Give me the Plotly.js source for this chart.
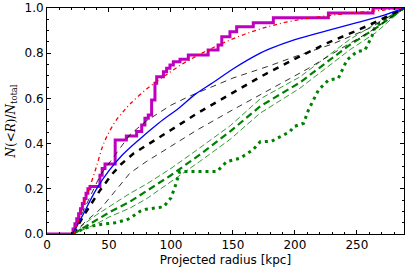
<!DOCTYPE html>
<html>
<head>
<meta charset="utf-8">
<script src="https://cdn.plot.ly/plotly-3.0.1.min.js"></script>
<style>html,body{margin:0;padding:0;background:#fff;}#chart{width:407px;height:271px;}</style>
</head>
<body>
<div id="chart"></div>
<script>
// Observed cumulative distribution (step)
const obsR = [0, 21, 22.5, 24, 25.5, 27, 28.5, 30, 31.5, 33, 34.7, 42.7, 44.5, 46.8, 55, 64, 72.3, 76.4, 79, 81.7, 84.4, 87.1, 88.5, 93.9, 96.5, 99.2, 101.9, 107.3, 114, 130, 138, 141, 147.6, 153, 166.4, 182.6, 227, 263, 288];
const obsF = [0, 0.022, 0.045, 0.067, 0.09, 0.112, 0.135, 0.157, 0.18, 0.2, 0.21, 0.26, 0.29, 0.31, 0.416, 0.434, 0.453, 0.482, 0.512, 0.527, 0.593, 0.667, 0.696, 0.718, 0.733, 0.748, 0.762, 0.773, 0.792, 0.814, 0.836, 0.873, 0.895, 0.917, 0.935, 0.957, 0.978, 1.0, 1.0];

// Red dash-dot model
const redR = [22, 26, 30, 34, 40, 45, 50, 56, 62, 67, 80, 95, 110, 125, 140, 160, 180, 200, 225, 250, 270, 288];
const redF = [0, 0.07, 0.14, 0.2, 0.3, 0.39, 0.45, 0.505, 0.545, 0.575, 0.64, 0.70, 0.755, 0.80, 0.84, 0.885, 0.92, 0.945, 0.965, 0.98, 0.99, 1.0];

// Blue solid model
const blueR = [21, 25, 30, 35, 40, 50, 60, 74, 90, 107, 120, 134, 150, 172, 180, 200, 226, 250, 270, 288];
const blueF = [0, 0.045, 0.095, 0.15, 0.2, 0.28, 0.345, 0.416, 0.49, 0.56, 0.62, 0.67, 0.73, 0.80, 0.82, 0.86, 0.90, 0.935, 0.965, 1.0];

// Black thick dashed (median)
const blkR = [21, 30, 40, 43, 53, 60, 70, 83, 100, 120, 134, 150, 172, 200, 226, 250, 266, 288];
const blkF = [0, 0.085, 0.17, 0.195, 0.268, 0.31, 0.357, 0.40, 0.46, 0.53, 0.575, 0.625, 0.695, 0.775, 0.845, 0.90, 0.94, 1.0];

// Black thin dashed upper / lower
const blkUpR = [21, 30, 43, 55, 67, 80, 100, 115, 130, 150, 180, 200, 230, 260, 288];
const blkUpF = [0, 0.11, 0.26, 0.35, 0.44, 0.50, 0.57, 0.61, 0.645, 0.69, 0.745, 0.785, 0.84, 0.91, 1.0];
const blkLoR = [21, 30, 43, 55, 67, 80, 100, 121, 150, 180, 210, 240, 265, 288];
const blkLoF = [0, 0.05, 0.11, 0.19, 0.27, 0.32, 0.39, 0.46, 0.55, 0.64, 0.73, 0.83, 0.91, 1.0];

// Green dashed (median thick, thin bounds)
const grnR = [21, 30, 40, 50, 67, 80, 100, 123, 148, 172, 204, 244, 265, 288];
const grnF = [0, 0.03, 0.065, 0.095, 0.143, 0.19, 0.26, 0.35, 0.455, 0.565, 0.67, 0.836, 0.91, 1.0];
const grnUpF = [0, 0.045, 0.085, 0.12, 0.18, 0.22, 0.29, 0.38, 0.48, 0.598, 0.695, 0.86, 0.93, 1.0];
const grnLoF = [0, 0.02, 0.045, 0.075, 0.115, 0.155, 0.23, 0.32, 0.42, 0.535, 0.645, 0.814, 0.89, 1.0];

// Green dotted
const gdotR = [21, 25, 30, 40, 55, 64, 67, 75, 80, 94, 100, 104, 107, 114, 137, 145, 156, 166, 172, 181, 188, 196, 199, 207, 211, 219, 227, 235, 242, 250, 256.5, 262, 264.6, 273, 285, 288];
const gdotF = [0, 0.01, 0.025, 0.04, 0.05, 0.062, 0.07, 0.1, 0.11, 0.12, 0.16, 0.22, 0.276, 0.276, 0.276, 0.32, 0.336, 0.372, 0.408, 0.41, 0.43, 0.453, 0.475, 0.49, 0.55, 0.637, 0.681, 0.689, 0.77, 0.807, 0.814, 0.873, 0.917, 0.947, 0.99, 1.0];

const xTicks = [0, 50, 100, 150, 200, 250];
const yTicks = [0.0, 0.2, 0.4, 0.6, 0.8, 1.0];

const G = '#008000';
const traces = [
  {x: obsR, y: obsF, mode: 'lines', line: {color: '#bf00bf', width: 3, shape: 'hv'}},
  {x: gdotR, y: gdotF, mode: 'lines', line: {color: G, width: 3, dash: '3px,4px'}},
  {x: grnR, y: grnUpF, mode: 'lines', line: {color: G, width: 0.8, dash: '6px,3px'}},
  {x: grnR, y: grnLoF, mode: 'lines', line: {color: G, width: 0.8, dash: '6px,3px'}},
  {x: grnR, y: grnF, mode: 'lines', line: {color: G, width: 2.2, dash: '7px,4px'}},
  {x: blkUpR, y: blkUpF, mode: 'lines', line: {color: '#000', width: 0.8, dash: '6px,5px'}},
  {x: blkLoR, y: blkLoF, mode: 'lines', line: {color: '#000', width: 0.8, dash: '6px,5px'}},
  {x: blkR, y: blkF, mode: 'lines', line: {color: '#000', width: 2.5, dash: '6px,6px'}},
  {x: blueR, y: blueF, mode: 'lines', line: {color: '#0000ff', width: 1.3, shape: 'spline'}},
  {x: redR, y: redF, mode: 'lines', line: {color: '#ff0000', width: 1.3, dash: '4px,3px,1px,3px', shape: 'spline'}}
];

const axisCommon = {
  showline: true, linecolor: '#000', linewidth: 1, mirror: 'allticks',
  ticks: 'inside', ticklen: 4, tickcolor: '#000', tickwidth: 1,
  showgrid: false, zeroline: false,
  tickfont: {family: 'DejaVu Sans', size: 12, color: '#000'}
};

const layout = {
  width: 407, height: 271,
  margin: {l: 47, r: 3, t: 8, b: 37},
  paper_bgcolor: '#fff', plot_bgcolor: '#fff',
  showlegend: false,
  xaxis: Object.assign({}, axisCommon, {
    range: [0, 288], tickvals: xTicks, ticktext: xTicks.map(String),
    minor: {dtick: 10, tick0: 0, ticks: 'inside', ticklen: 2, tickcolor: '#000'},
    title: {text: 'Projected radius [kpc]', font: {family: 'DejaVu Sans', size: 12, color: '#000'}, standoff: 4}
  }),
  yaxis: Object.assign({}, axisCommon, {
    range: [0, 1], tickvals: yTicks, ticktext: yTicks.map(v => v.toFixed(1)),
    minor: {dtick: 0.05, tick0: 0, ticks: 'inside', ticklen: 2, tickcolor: '#000'},
    title: {text: '<i>N</i>(&lt;<i>R</i>)/<i>N</i><sub>total</sub>', font: {family: 'DejaVu Serif', size: 12, color: '#000'}, standoff: 6}
  })
};

Plotly.newPlot('chart', traces, layout, {staticPlot: true, displayModeBar: false});
</script>
</body>
</html>
